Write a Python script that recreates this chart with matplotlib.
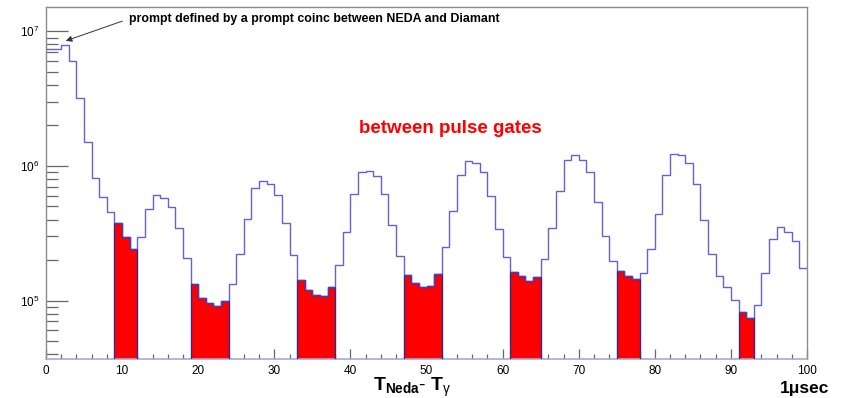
import matplotlib
matplotlib.use("Agg")
import matplotlib.pyplot as plt
import numpy as np
from matplotlib.ticker import MultipleLocator, LogLocator, LogFormatterSciNotation, NullFormatter

plt.rcParams['font.family'] = ['Liberation Sans', 'DejaVu Sans']
plt.rcParams['mathtext.fontset'] = 'custom'
plt.rcParams['mathtext.rm'] = 'Liberation Sans'
plt.rcParams['mathtext.bf'] = 'Liberation Sans:bold'
plt.rcParams['mathtext.it'] = 'Liberation Sans:italic'

# counts per 1 us bin, 0..100
counts = [
    7.43e6, 7.43e6, 7.87e6, 6.02e6, 3.18e6, 1.51e6, 8.1e5, 5.92e5, 4.55e5, 3.8e5,
    2.98e5, 2.43e5, 2.98e5, 4.8e5, 6.06e5, 5.83e5, 4.99e5, 3.47e5, 2.07e5, 1.32e5,
    1.05e5, 9.55e4, 9.1e4, 1.0e5, 1.32e5, 2.21e5, 4.06e5, 6.83e5, 7.74e5, 7.3e5,
    6.06e5, 3.75e5, 2.18e5, 1.42e5, 1.2e5, 1.1e5, 1.09e5, 1.26e5, 1.83e5, 3.25e5,
    6.19e5, 9.08e5, 9.2e5, 8.43e5, 6.22e5, 3.62e5, 2.15e5, 1.55e5, 1.36e5, 1.26e5,
    1.29e5, 1.57e5, 2.52e5, 4.66e5, 8.57e5, 1.09e6, 1.05e6, 8.98e5, 5.98e5, 3.43e5,
    2.1e5, 1.64e5, 1.51e5, 1.39e5, 1.5e5, 2.03e5, 3.44e5, 6.56e5, 1.11e6, 1.21e6,
    1.11e6, 8.98e5, 5.41e5, 3.02e5, 1.98e5, 1.66e5, 1.51e5, 1.44e5, 1.61e5, 2.41e5,
    4.41e5, 8.57e5, 1.22e6, 1.2e6, 1.06e6, 7.4e5, 3.97e5, 2.21e5, 1.52e5, 1.27e5,
    1.01e5, 8.28e4, 7.4e4, 9.3e4, 1.59e5, 2.86e5, 3.51e5, 3.22e5, 2.77e5, 1.74e5,
]
edges = np.arange(0, 101, 1)

# between-pulse gates (first bin, last bin)
gates = [(9, 11), (19, 23), (33, 37), (47, 51), (61, 64), (75, 77), (91, 92)]

line_col = '#4646c8'
frame_col = '#8c8c8c'

fig = plt.figure(figsize=(8.44, 3.98), dpi=100)
ax = fig.add_axes([0.0545, 0.098, 0.9017, 0.8837])
ax.set_yscale('log')
ax.set_xlim(0, 100)
ax.set_ylim(3.68e4, 1.51e7)

counts = np.array(counts)
for lo, hi in gates:
    e = edges[lo:hi + 2]
    v = counts[lo:hi + 1]
    ax.stairs(v, e, baseline=1, fill=True, color='#ff0000', zorder=2)
    ax.stairs(v, e, baseline=1, color='#2a2a9a', lw=1.0, zorder=3)

ax.stairs(counts, edges, baseline=None, color=line_col, lw=1.0, alpha=0.85, zorder=4)

for s in ['top', 'right', 'left']:
    ax.spines[s].set_color(frame_col)
    ax.spines[s].set_linewidth(1.0)
ax.spines['bottom'].set_color('#a8a8d8')
ax.spines['bottom'].set_linewidth(1.2)

ax.xaxis.set_major_locator(MultipleLocator(10))
ax.xaxis.set_minor_locator(MultipleLocator(2))
ax.yaxis.set_major_locator(LogLocator(base=10))
ax.yaxis.set_minor_locator(LogLocator(base=10, subs=np.arange(2, 10)))
ax.yaxis.set_major_formatter(LogFormatterSciNotation())
ax.yaxis.set_minor_formatter(NullFormatter())

ax.tick_params(axis='y', which='major', direction='in', length=16, width=0.9,
               color='#666666', labelsize=8.5, pad=5)
ax.tick_params(axis='y', which='minor', direction='in', length=8.5, width=0.9,
               color='#666666')
ax.tick_params(axis='x', which='major', direction='in', length=7, width=0.9,
               color='#666666', labelsize=8.5, pad=4)
ax.tick_params(axis='x', which='minor', direction='in', length=3.5, width=0.9,
               color='#666666')
ax.tick_params(top=False, right=False, which='both')

# axis titles, placed like ROOT does
ax.text((412 - 46) / 761, -(391 - 359) / 351.7,
        r'$\mathbf{T_{Neda}}$- $\mathbf{T}_{\mathrm{\gamma}}$',
        transform=ax.transAxes, ha='center', va='baseline', fontsize=14)
ax.text((829 - 46) / 761, -(393 - 359) / 351.7, u'1\u03bcsec',
        transform=ax.transAxes, ha='right', va='baseline', fontsize=12.5,
        fontweight='bold')

ax.text(53.1, 1.91e6, 'between pulse gates', color='#ff0000', fontsize=13.5,
        fontweight='bold', ha='center', va='center')

ax.annotate('prompt defined by a prompt coinc between NEDA and Diamant',
            xy=(2.6, 8.5e6), xytext=(10.9, 1.24e7), fontsize=8.9,
            fontweight='bold', ha='left', va='center',
            arrowprops=dict(arrowstyle='-|>', color='#333333', lw=0.7,
                            mutation_scale=9, shrinkA=3, shrinkB=0,
                            relpos=(0, 0.5)))

fig.savefig('out.png', dpi=100)
